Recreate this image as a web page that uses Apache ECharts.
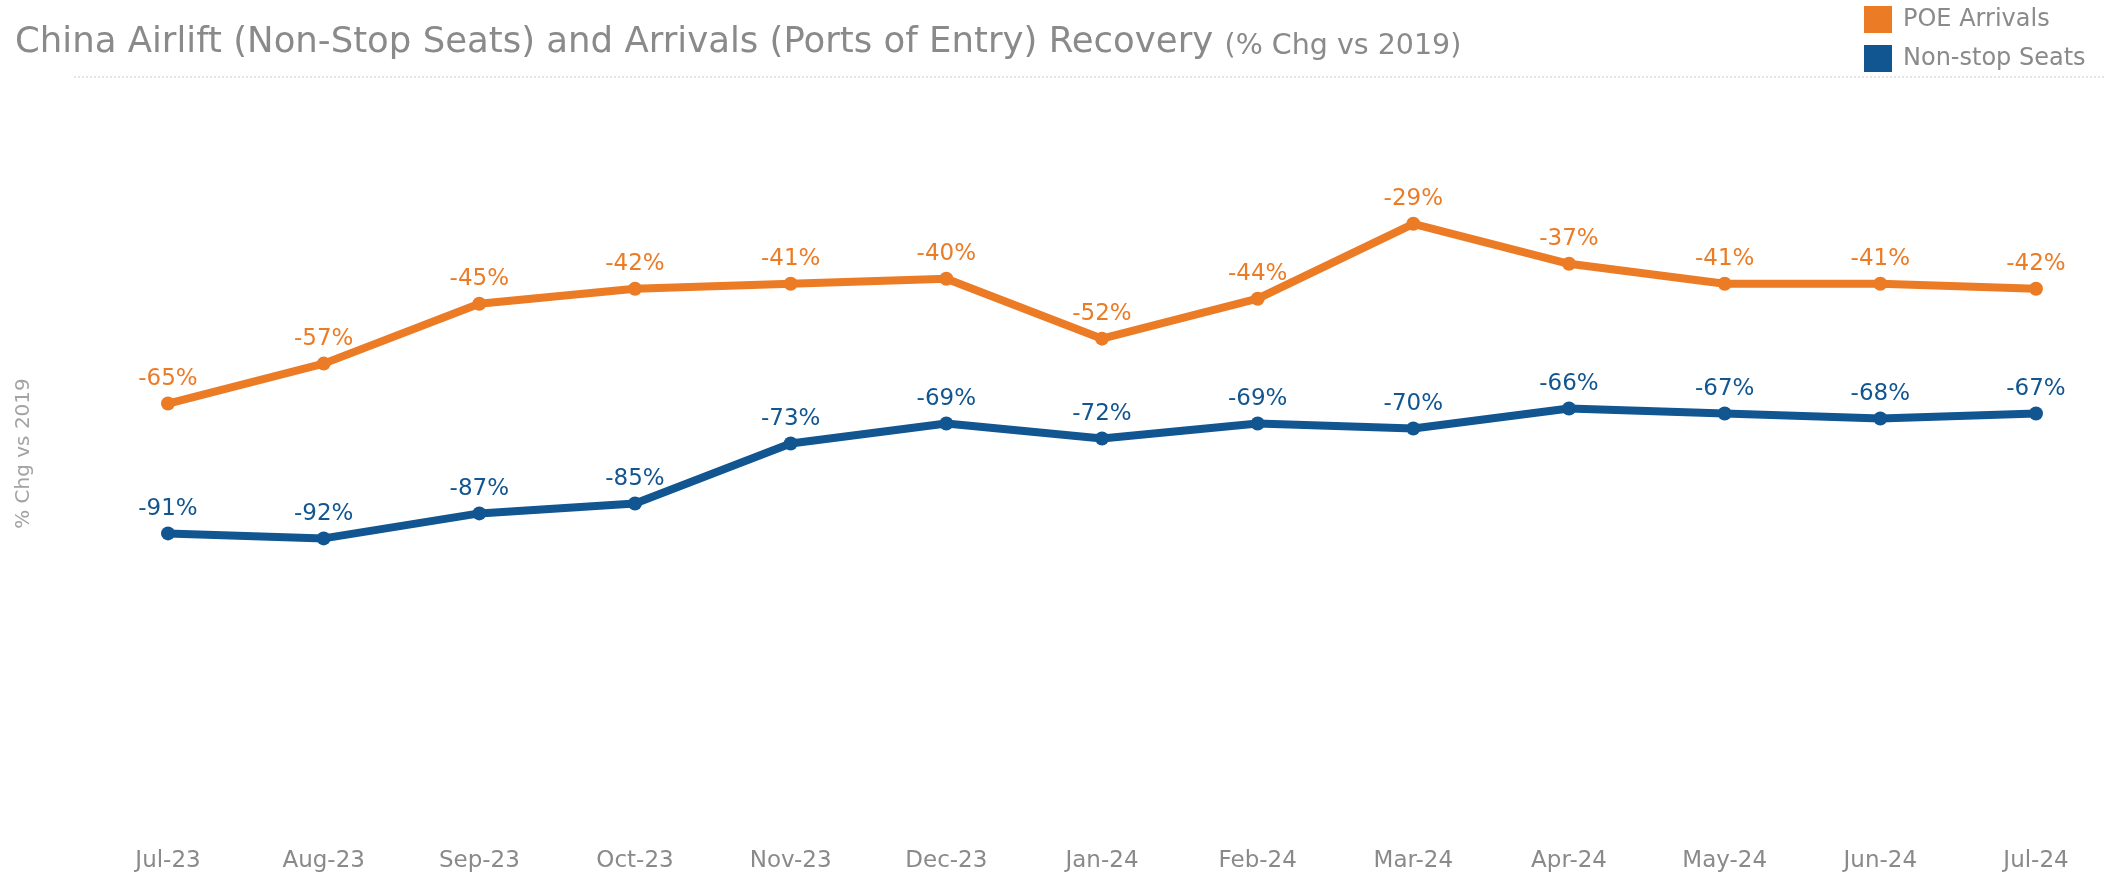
<!DOCTYPE html>
<html>
<head>
<meta charset="utf-8">
<script src="https://cdn.jsdelivr.net/npm/echarts@6/dist/echarts.min.js"></script>
<style>
  html, body { margin: 0; padding: 0; background: #fff; }
  #chart { width: 2104px; height: 878px; }
</style>
</head>
<body>
<div id="chart"></div>
<script>
// Monthly recovery vs 2019 (%)
const months = ['Jul-23', 'Aug-23', 'Sep-23', 'Oct-23', 'Nov-23', 'Dec-23', 'Jan-24', 'Feb-24', 'Mar-24', 'Apr-24', 'May-24', 'Jun-24', 'Jul-24'];
const poeArrivals = [-65, -57, -45, -42, -41, -40, -52, -44, -29, -37, -41, -41, -42];
const nonStopSeats = [-91, -92, -87, -85, -73, -69, -72, -69, -70, -66, -67, -68, -67];

const ORANGE = '#EC7B25';
const BLUE = '#115591';
const GREY = '#8a8a8a';
const FONT = '"DejaVu Sans", "Liberation Sans", sans-serif';

const chart = echarts.init(document.getElementById('chart'));

function lineSeries(name, data, color) {
  return {
    name: name,
    type: 'line',
    data: data,
    color: color,
    symbol: 'circle',
    symbolSize: 14,
    lineStyle: { width: 8, color: color },
    itemStyle: { color: color },
    label: {
      show: true,
      position: 'top',
      distance: 6,
      color: color,
      fontFamily: FONT,
      fontSize: 23,
      formatter: p => p.value + '%'
    },
    animation: false
  };
}

chart.setOption({
  backgroundColor: '#fff',
  title: {
    text: '{m|China Airlift (Non-Stop Seats) and Arrivals (Ports of Entry) Recovery }{s|(% Chg vs 2019)}',
    left: 10,
    top: 20,
    textStyle: {
      fontFamily: FONT,
      fontSize: 35,
      fontWeight: 'normal',
      color: GREY,
      rich: {
        m: { fontFamily: FONT, fontSize: 35.5, lineHeight: 36, color: GREY, verticalAlign: 'bottom' },
        s: { fontFamily: FONT, fontSize: 28.5, lineHeight: 29, color: GREY, verticalAlign: 'bottom' }
      }
    }
  },
  legend: {
    orient: 'vertical',
    left: 1864,
    top: 6,
    padding: 0,
    icon: 'rect',
    itemWidth: 28,
    itemHeight: 27,
    itemGap: 12,
    textStyle: { fontFamily: FONT, fontSize: 24, color: GREY, padding: [0, 0, 0, 6] },
    data: ['POE Arrivals', 'Non-stop Seats']
  },
  graphic: [{
    type: 'line',
    shape: { x1: 74, y1: 77, x2: 2104, y2: 77 },
    style: { stroke: '#cccccc', lineWidth: 1, lineDash: [2, 2] },
    silent: true
  }],
  grid: { left: 168, right: 68, top: 79, bottom: 50 },
  xAxis: {
    type: 'category',
    data: months,
    boundaryGap: false,
    axisLine: { show: false },
    axisTick: { show: false },
    axisLabel: { color: GREY, fontFamily: FONT, fontSize: 23, margin: 22 },
    splitLine: { show: false }
  },
  yAxis: {
    type: 'value',
    min: -150,
    max: 0,
    name: '% Chg vs 2019',
    nameLocation: 'middle',
    nameRotate: 90,
    nameGap: 134,
    nameTextStyle: { color: '#a3a3a3', fontFamily: FONT, fontSize: 20 },
    axisLine: { show: false },
    axisTick: { show: false },
    axisLabel: { show: false },
    splitLine: { show: false }
  },
  series: [
    lineSeries('POE Arrivals', poeArrivals, ORANGE),
    lineSeries('Non-stop Seats', nonStopSeats, BLUE)
  ]
});
</script>
</body>
</html>
